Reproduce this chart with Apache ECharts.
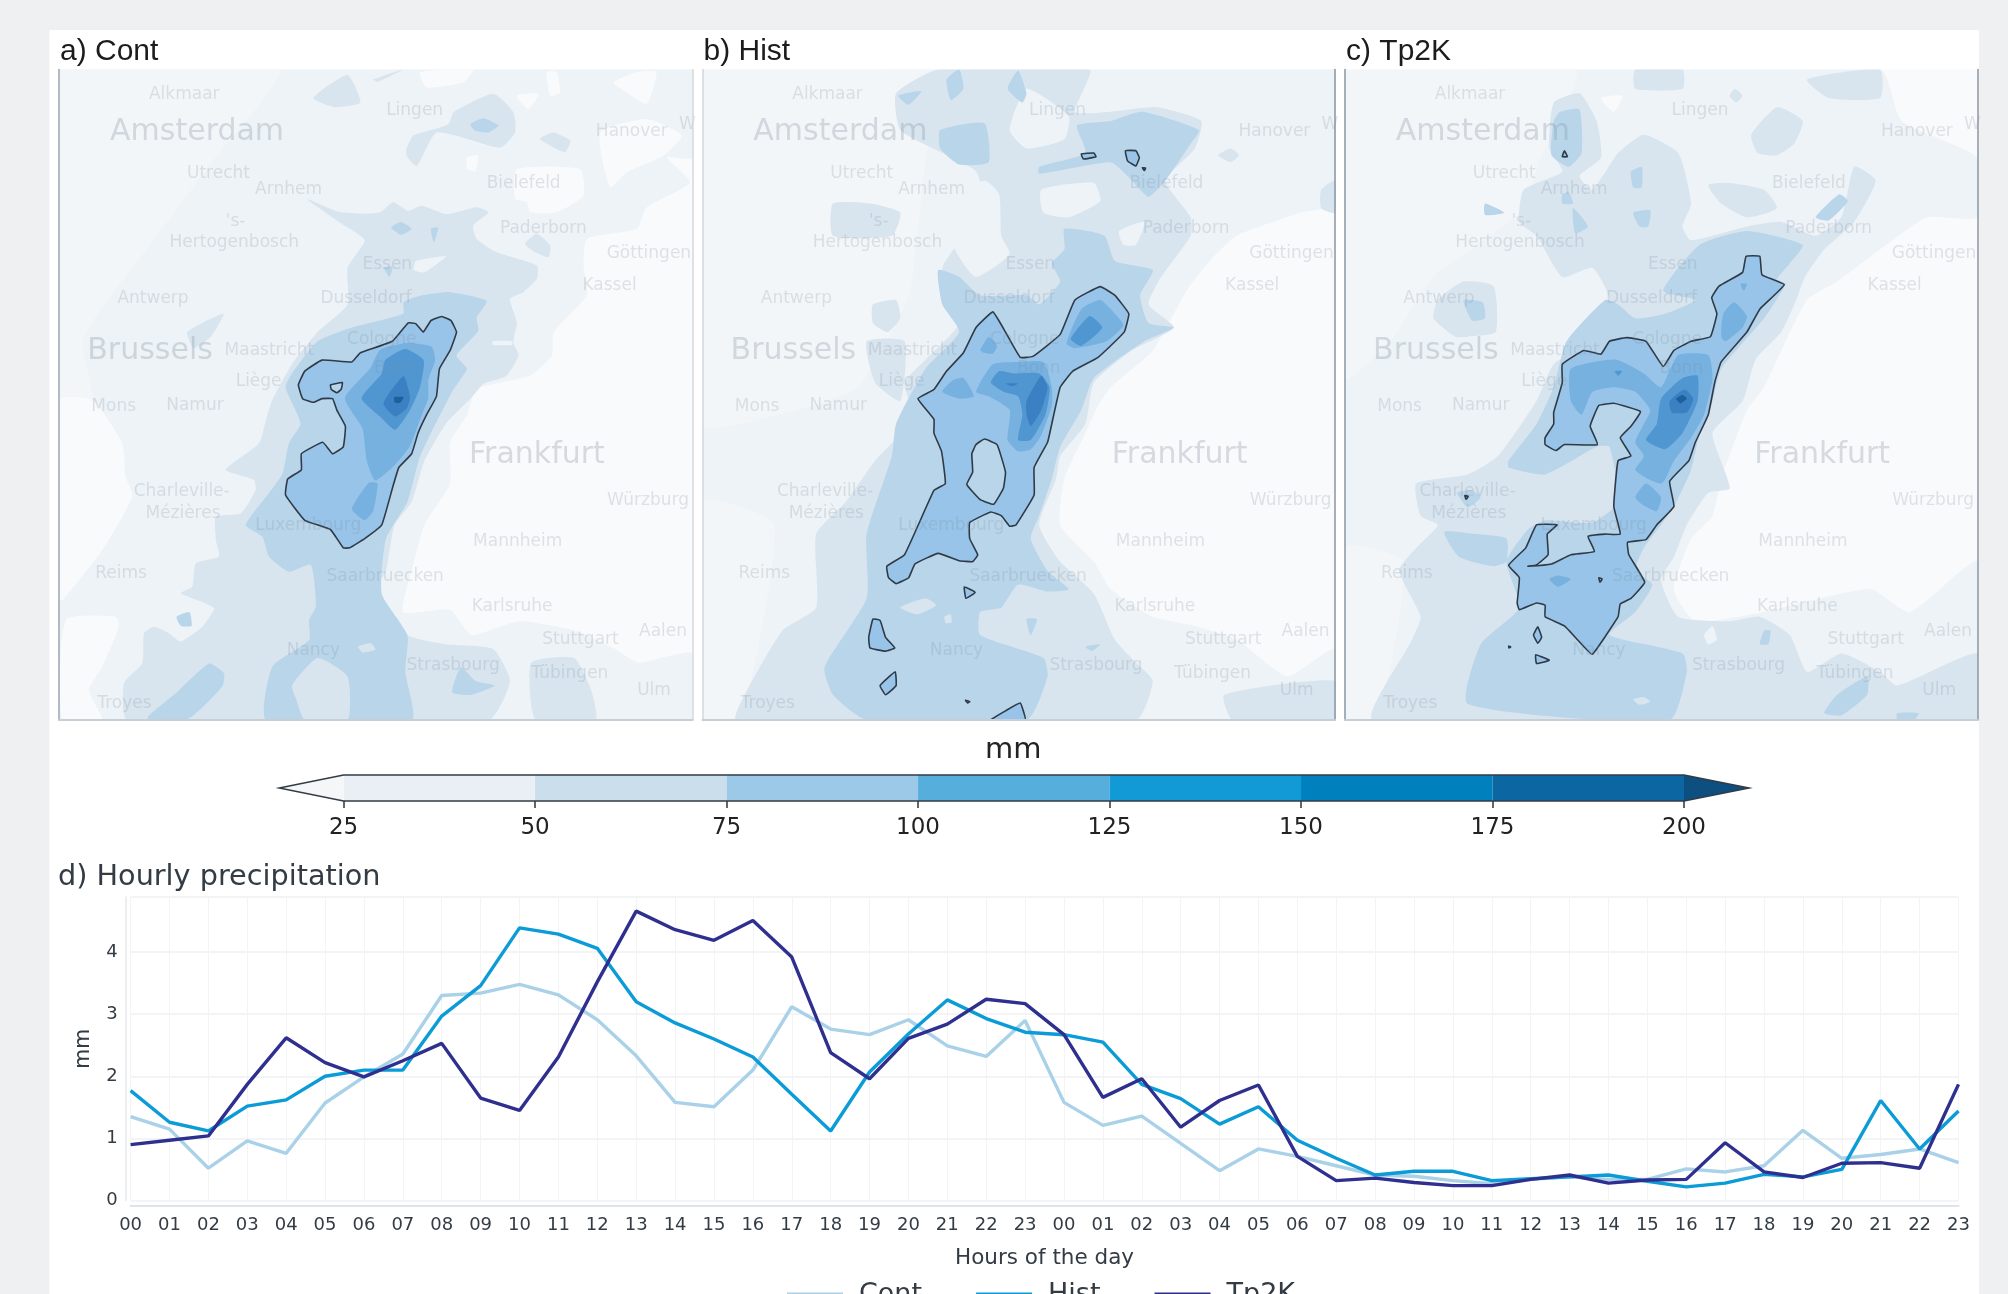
<!DOCTYPE html>
<html><head><meta charset="utf-8">
<style>html,body{margin:0;padding:0;background:#eef0f2}#c{width:2008px;height:1294px}</style>
<script src="https://cdn.jsdelivr.net/npm/echarts@6/dist/echarts.min.js"></script>
</head><body><div id="c"></div>
<script>
// ---------- line chart ----------
const hours = ['00','01','02','03','04','05','06','07','08','09','10','11','12','13','14','15','16','17','18','19','20','21','22','23','00','01','02','03','04','05','06','07','08','09','10','11','12','13','14','15','16','17','18','19','20','21','22','23'];
const contLine = [1.35,1.15,0.52,0.96,0.76,1.57,1.99,2.36,3.30,3.34,3.48,3.31,2.91,2.33,1.58,1.51,2.10,3.12,2.76,2.67,2.91,2.49,2.32,2.90,1.58,1.21,1.36,0.92,0.48,0.83,0.71,0.56,0.41,0.39,0.32,0.27,0.34,0.38,0.34,0.34,0.51,0.46,0.56,1.13,0.68,0.74,0.83,0.61];
const histLine = [1.77,1.26,1.12,1.52,1.62,2.00,2.10,2.10,2.97,3.46,4.39,4.29,4.06,3.20,2.86,2.60,2.31,1.71,1.12,2.07,2.68,3.23,2.93,2.71,2.67,2.55,1.87,1.64,1.23,1.51,0.97,0.68,0.41,0.47,0.47,0.32,0.35,0.38,0.41,0.31,0.22,0.28,0.42,0.38,0.50,1.61,0.83,1.44];
const tp2kLine = [0.90,0.97,1.04,1.87,2.62,2.22,1.99,2.25,2.53,1.65,1.45,2.31,3.52,4.66,4.36,4.19,4.51,3.92,2.38,1.96,2.61,2.84,3.24,3.17,2.67,1.66,1.96,1.18,1.61,1.86,0.71,0.32,0.36,0.29,0.24,0.24,0.34,0.41,0.28,0.33,0.34,0.93,0.46,0.37,0.60,0.61,0.52,1.87];

// ---------- colour bar ----------
const cbEdges = [25,50,75,100,125,150,175,200];
const cbColors = ['#e9eff4','#cadeec','#9cc9e7','#55aedb','#129ad6','#0080bd','#0c66a1'];
const cbLowTip = 16.6, cbHighTip = 208.5;

// ---------- map level colours ----------
const mapBase = '#f9fafb';
const lv0='#f3f6f9', lv25='#eef3f7', lv50='#d8e5ef', lv75='#b9d5ea', lv100='#97c4e8', lv125='#76b1e0', lv150='#5097d2', lv175='#3a80c2', lv200='#1f5f9c';

// ---------- cities (map units) ----------
const citiesSmall = [['Alkmaar',338,162],['Lingen',877,197],['Hanover',1385,244],['W',1515,229],['Utrecht',418,334],['Arnhem',582,369],['Bielefeld',1132,357],["'s-",458,439],['Hertogenbosch',455,486],['Paderborn',1178,454],['Göttingen',1425,510],['Essen',813,534],['Kassel',1333,579],['Antwerp',265,608],['Dusseldorf',763,606],['Cologne',800,696],['Maastricht',537,721],['Bonn',833,759],['Liège',512,787],['Mons',173,842],['Namur',363,841],['Charleville-',332,1028],['Mézières',335,1076],['Würzburg',1423,1046],['Luxembourg',628,1101],['Mannheim',1118,1137],['Reims',190,1206],['Saarbruecken',808,1212],['Karlsruhe',1105,1279],['Stuttgart',1265,1349],['Aalen',1458,1332],['Nancy',640,1374],['Strasbourg',967,1406],['Tübingen',1240,1424],['Ulm',1437,1461],['Troyes',198,1490]];
const citiesLarge = [['Amsterdam',368,244],['Brussels',258,722],['Frankfurt',1163,949]];

// ---------- panel a contours ----------
const a25 = [[[45,108],[1527,108],[1527,300],[1467,299],[1521,354],[1420,408],[1397,455],[1280,477],[1272,535],[1280,600],[1202,681],[1198,731],[1147,775],[1022,804],[1000,860],[960,920],[960,1010],[900,1100],[870,1200],[850,1290],[960,1285],[1010,1340],[1120,1310],[1250,1330],[1345,1370],[1400,1400],[1527,1380],[1527,1525],[45,1525]]];
const aPale = [[[45,108],[560,108],[500,200],[410,300],[330,400],[200,560],[150,620],[100,700],[123,828],[45,828]]];
const aGaps = [[[890,114],[1014,108],[991,136],[905,147]],[[1116,165],[1167,161],[1143,194]],[[1186,114],[1209,114],[1217,158],[1194,165]],[[1342,136],[1397,114],[1443,114],[1420,183],[1373,158]],[[1116,325],[1264,325],[1272,383],[1209,419],[1147,419],[1139,397],[1112,390]],[[1311,245],[1420,216],[1502,252],[1459,296],[1373,332],[1334,365]],[[61,1307],[178,1300],[185,1322],[146,1409],[115,1460],[146,1525],[53,1525]],[[45,828],[123,828],[193,922],[201,995],[217,1038],[146,1155],[53,1264],[45,1264]],[[1000,300],[1025,295],[1020,330],[1000,325]]];
const a50 = [[[796,419],[827,397],[862,416],[893,405],[952,423],[1022,408],[1050,419],[1014,448],[1022,477],[1069,506],[1163,535],[1163,564],[1131,593],[1100,608],[1116,659],[1108,702],[1120,731],[1092,775],[1038,793],[1007,826],[950,880],[900,960],[870,1050],[830,1100],[810,1200],[790,1240],[860,1340],[950,1360],[1060,1370],[1100,1440],[1050,1525],[205,1525],[197,1445],[240,1401],[244,1336],[267,1322],[302,1336],[330,1354],[380,1322],[408,1282],[388,1271],[330,1249],[357,1235],[365,1184],[419,1169],[412,1133],[412,1082],[470,1075],[505,1024],[501,1002],[435,980],[513,922],[529,872],[544,828],[590,750],[650,680],[720,620],[720,540],[760,480],[700,440],[625,390],[700,418],[760,422]],
[[640,170],[720,120],[750,180],[690,190]],[[858,296],[882,318],[929,245],[1077,278],[1112,245],[1108,201],[1061,161],[968,201],[956,227],[874,252],[858,281]],[[345,680],[430,640],[400,690],[360,715]],[[1135,488],[1163,466],[1194,492],[1190,517],[1159,506]],[[1150,1400],[1250,1390],[1290,1460],[1300,1525],[1160,1525]],[[780,130],[850,108],[790,135]],[[1170,259],[1202,245],[1241,263],[1229,288],[1202,278]]];
const a50Gaps = [[[880,525],[950,515],[900,550],[875,545]],[[1060,700],[1105,700],[1105,708],[1060,708]]];
const a75 = [[[851,615],[890,601],[960,593],[1046,612],[1022,648],[1026,677],[975,731],[999,760],[964,811],[890,950],[860,1050],[810,1130],[800,1250],[860,1340],[855,1420],[870,1525],[530,1525],[544,1409],[630,1351],[630,1307],[646,1278],[634,1187],[583,1202],[536,1169],[521,1126],[482,1100],[536,1031],[568,988],[583,922],[610,879],[575,800],[590,770],[650,700],[730,670],[850,640]],
[[252,1521],[318,1467],[396,1402],[431,1423],[427,1452],[349,1521]],[[965,1465],[985,1410],[1020,1440],[1065,1450],[1010,1470]],[[320,1300],[350,1290],[355,1320],[330,1320]],[[822,452],[845,440],[870,455],[845,468]],[[915,455],[932,452],[922,485]],[[805,540],[825,538],[818,560]],[[1007,227],[1038,214],[1073,230],[1050,245],[1018,241]]];
const a75Gaps = [[[590,1450],[650,1390],[720,1430],[720,1525],[620,1525],[600,1480]],[[745,1365],[775,1358],[785,1372],[755,1378]]];
const a100 = [[[862,660],[880,662],[897,680],[915,655],[940,646],[962,655],[975,680],[960,720],[935,760],[928,820],[905,860],[885,900],[870,945],[840,975],[825,1020],[800,1100],[760,1130],[725,1150],[710,1150],[680,1110],[620,1090],[575,1035],[580,1000],[612,980],[612,945],[662,920],[685,945],[710,930],[715,885],[695,850],[685,825],[660,825],[640,833],[615,825],[605,795],[620,765],[660,741],[730,745],[750,725],[825,700]]];
const a100Gaps = [[[680,795],[708,790],[705,805],[695,812],[682,805]]];
const a125 = [[[714,824],[773,759],[796,719],[859,704],[917,712],[925,741],[909,784],[909,824],[898,850],[886,879],[865,930],[830,970],[785,1003],[765,960],[755,890]],[[770,1008],[790,1010],[780,1070],[760,1090],[730,1065]]];
const a150 = [[[753,824],[800,770],[808,741],[855,717],[898,741],[890,799],[866,850],[831,893],[796,864]]];
const a175 = [[[804,835],[851,776],[866,821],[859,846],[831,864]]];
const a200 = [[[829,822],[851,822],[843,834],[831,834]]];

// ---------- panel b contours ----------
const bPale = [[[30,108],[600,108],[560,300],[520,600],[400,800],[250,850],[30,880]],[[30,1050],[200,1100],[120,1525],[30,1525]]];
const b25 = [[[450,108],[1533,108],[1533,400],[1450,420],[1300,470],[1240,520],[1180,590],[1100,720],[1000,800],[970,840],[940,900],[890,1000],[880,1100],[960,1180],[1000,1240],[1100,1300],[1200,1320],[1300,1350],[1420,1430],[1533,1370],[1533,1525],[30,1525],[30,800],[100,780],[250,800],[280,640],[340,380],[400,200]]];
const b50 = [[[590,108],[950,108],[915,200],[1000,200],[1110,190],[1215,220],[1200,280],[1130,350],[1190,430],[1190,470],[1120,560],[1090,620],[1150,670],[1050,720],[960,790],[940,880],[880,950],[870,1000],[830,1100],[880,1180],[960,1250],[1010,1350],[1060,1400],[1100,1440],[1060,1525],[110,1525],[130,1470],[220,1330],[300,1280],[300,1120],[370,1050],[440,960],[530,870],[510,790],[560,740],[640,660],[600,540],[700,410],[680,330],[600,290],[500,240],[490,160]],
[[435,620],[490,610],[500,650],[470,680],[435,660]],[[340,400],[430,400],[500,420],[480,470],[340,470]],[[420,700],[510,700],[500,830],[440,790]],[[1270,1470],[1533,1440],[1533,1525],[1290,1525]],[[1255,295],[1285,280],[1305,295],[1285,310]],[[1500,370],[1533,350],[1533,420],[1500,410]]];
const b50Gaps = [[[835,370],[960,355],[975,395],[900,430],[840,420]],[[1020,460],[1080,440],[1060,490],[1030,490]],[[760,240],[800,150],[900,210],[890,260],[800,280]],[[615,400],[700,350],[735,380],[740,470],[760,510],[680,560],[630,500]]];
const b75 = [[[890,455],[985,470],[1010,525],[1100,545],[1070,600],[1090,660],[1150,670],[1080,700],[960,780],[930,850],[880,930],[860,1000],[830,1080],[810,1130],[850,1200],[900,1240],[850,1245],[780,1230],[740,1280],[690,1290],[690,1340],[840,1390],[850,1430],[800,1525],[420,1525],[340,1470],[320,1410],[420,1260],[420,1120],[480,950],[490,880],[560,760],[640,680],[600,620],[590,545],[640,560],[690,600],[800,600],[830,620],[880,570],[860,530],[890,500]],
[[830,320],[940,290],[920,230],[1000,220],[1075,200],[1210,240],[1190,270],[1130,350],[1090,385],[1040,340],[1000,310],[830,335]],[[595,240],[700,225],[710,310],[640,315],[595,280]],[[610,130],[640,108],[650,150],[620,175]],[[495,165],[550,155],[520,185]],[[780,110],[800,160],[790,180],[755,150]],[[1115,250],[1135,258],[1122,270]],[[800,1305],[825,1305],[810,1340]],[[940,1365],[975,1360],[955,1375]]];
const b75Gaps = [[[500,1280],[560,1260],[585,1275],[540,1295]],[[605,1300],[620,1295],[622,1312],[608,1314]]];
const b100 = [[[720,636],[750,680],[785,735],[815,733],[880,685],[915,610],[975,581],[1010,600],[1043,640],[1032,680],[970,735],[910,765],[880,800],[860,880],[850,920],[818,975],[818,1035],[775,1100],[760,1103],[740,1080],[715,1072],[665,1095],[665,1130],[684,1165],[672,1180],[640,1178],[590,1162],[535,1185],[520,1215],[490,1228],[472,1215],[468,1190],[510,1165],[580,1025],[607,1010],[598,940],[580,900],[580,870],[542,825],[580,805],[610,765],[650,725],[680,670]],
[[930,292],[960,290],[965,298],[935,303]],[[1035,285],[1060,285],[1068,300],[1060,318],[1040,307]],[[1075,322],[1083,323],[1080,328]],[[652,1235],[678,1247],[656,1260]],[[435,1305],[452,1308],[465,1345],[487,1368],[465,1375],[428,1368],[425,1345]],[[452,1450],[488,1420],[490,1450],[465,1470]],[[655,1482],[665,1485],[660,1488]],[[715,1525],[750,1505],[785,1488],[797,1525]]];
const b100Gaps = [[[700,913],[730,925],[750,985],[745,1020],[722,1055],[690,1045],[658,1012],[672,985],[670,945],[680,925]]];
const b125 = [[[600,810],[625,785],[650,780],[675,820],[640,825]],[[690,720],[710,690],[730,710],[720,727],[700,725]],[[680,810],[720,750],[780,745],[840,745],[860,800],[860,840],[835,905],[810,935],[780,940],[755,915],[760,850],[710,820]],[[895,705],[930,630],[975,610],[1010,640],[1030,665],[990,700],[915,715]]];
const b150 = [[[715,790],[735,765],[770,770],[830,770],[855,800],[845,860],[810,915],[780,915],[790,860],[780,820],[745,810]],[[905,695],[950,645],[980,670],[930,710]]];
const b175 = [[[800,830],[835,775],[850,800],[835,850],[810,885],[800,860]],[[750,792],[780,792],[765,798]]];

// ---------- panel c contours ----------
const cPale = [[[24,108],[560,108],[480,300],[430,420],[230,560],[130,700],[24,780]],[[24,1150],[160,1180],[100,1525],[24,1525]]];
const c25 = [[[330,108],[1270,108],[1320,220],[1497,300],[1497,430],[1380,430],[1270,500],[1170,570],[1100,610],[1040,720],[1000,800],[960,850],[900,1000],[880,1080],[830,1130],[790,1240],[840,1310],[1000,1290],[1130,1260],[1250,1240],[1340,1290],[1497,1180],[1497,1525],[60,1525],[24,1400],[24,700],[100,690],[150,600],[50,560],[24,500],[24,300],[150,300],[200,240],[280,170]]];
const cGaps = [[[620,170],[670,165],[650,200]],[[630,1000],[640,960],[625,945]]];
const c50 = [[[510,180],[570,160],[610,220],[620,300],[570,340],[600,370],[660,290],[720,250],[800,290],[830,400],[810,450],[830,480],[960,450],[1040,440],[1120,470],[1180,430],[1210,320],[1260,350],[1210,440],[1140,500],[1095,560],[1075,610],[1040,680],[980,740],[950,830],[880,900],[920,1020],[870,1030],[820,1100],[790,1170],[760,1220],[800,1300],[920,1310],[990,1300],[1060,1340],[1100,1420],[1180,1380],[1270,1420],[1310,1450],[1497,1380],[1497,1525],[90,1525],[180,1350],[200,1300],[150,1200],[190,1150],[240,1100],[200,1080],[190,1010],[310,990],[380,950],[470,830],[510,750],[590,700],[640,610],[600,540],[530,560],[470,470],[430,440],[440,370],[530,330],[500,280]],
[[240,610],[300,570],[370,580],[375,680],[310,690],[280,690],[230,650]],[[970,250],[1030,190],[1090,220],[1070,270],[1030,295],[985,290]],[[1100,130],[1270,108],[1270,170],[1150,170]],[[700,108],[810,108],[810,150],[700,150]],[[920,165],[932,150],[950,165],[935,180]],[[870,360],[920,355],[1000,370],[1030,410],[960,430],[900,400]]];
const c50Gaps = [[[450,730],[480,720],[485,790],[440,790]],[[1040,290],[1075,290],[1060,315]],[[860,1340],[880,1320],[890,1350],[870,1360]]];
const c75 = [[[850,490],[960,460],[1090,490],[1060,530],[1030,565],[1050,575],[1000,650],[900,760],[880,830],[850,900],[830,980],[790,1060],[760,1100],[720,1150],[700,1200],[740,1230],[700,1290],[640,1340],[810,1380],[820,1420],[780,1525],[310,1490],[340,1360],[430,1280],[400,1180],[450,1110],[490,1090],[600,1095],[660,1050],[640,930],[610,930],[490,990],[405,975],[405,960],[470,880],[510,800],[540,700],[630,610],[660,620],[700,650],[770,640],[840,610],[765,590]],
[[525,200],[570,195],[575,290],[545,320],[505,295],[510,220]],[[690,330],[715,320],[715,365],[695,365]],[[530,380],[545,375],[555,400],[530,400]],[[555,410],[590,450],[560,465]],[[695,420],[735,415],[730,450],[710,450]],[[350,400],[395,420],[350,425]],[[1120,430],[1175,380],[1195,395],[1150,437]],[[300,610],[345,615],[350,650],[320,655]],[[285,1030],[320,1025],[340,1040],[310,1062]],[[255,1115],[330,1120],[400,1130],[400,1180],[370,1190],[290,1170]],[[1000,1330],[1015,1330],[1010,1360],[990,1360]],[[1140,1510],[1170,1470],[1240,1430],[1240,1470],[1180,1515]],[[1310,1510],[1360,1510],[1350,1525],[1310,1525]]];
const c75Gaps = [[[695,1480],[720,1475],[735,1485],[710,1492]]];
const c100 = [[[958,515],[990,515],[995,555],[1047,577],[990,630],[960,680],[900,745],[885,790],[870,860],[840,920],[825,960],[780,1005],[790,1060],[750,1100],[725,1132],[682,1138],[685,1165],[722,1225],[690,1260],[665,1272],[660,1300],[600,1382],[575,1360],[535,1320],[490,1300],[490,1275],[470,1270],[430,1285],[425,1270],[430,1215],[405,1188],[445,1150],[470,1100],[518,1100],[495,1120],[497,1165],[470,1187],[450,1190],[505,1185],[550,1165],[605,1158],[590,1125],[630,1120],[665,1120],[650,1060],[660,960],[690,950],[665,910],[690,885],[712,853],[650,835],[615,840],[595,885],[612,925],[535,925],[515,938],[490,925],[490,910],[510,880],[510,855],[530,790],[530,750],[580,720],[620,728],[640,700],[680,692],[725,700],[765,755],[790,720],[830,700],[875,690],[890,640],[878,605],[895,580],[950,550]],
[[535,285],[542,298],[530,298]],[[303,1036],[311,1038],[306,1044]],[[615,1215],[623,1218],[618,1225]],[[473,1322],[482,1345],[473,1358],[463,1340]],[[468,1383],[500,1395],[470,1402]],[[405,1364],[410,1366],[406,1368]]];
const c125 = [[[550,760],[655,740],[720,770],[760,800],[800,730],[870,730],[880,780],[860,860],[830,910],[790,960],[770,1000],[760,1010],[730,1000],[700,980],[720,950],[700,920],[720,880],[735,850],[700,810],[650,800],[600,810],[575,860],[550,830]],[[900,690],[905,640],[930,615],[960,645],[950,670],[910,700]],[[700,1040],[725,1010],[760,1040],[750,1070],[715,1055]],[[500,1218],[520,1210],[550,1218],[520,1235]],[[945,575],[960,575],[953,590]]];
const c150 = [[[760,825],[810,780],[845,775],[845,830],[810,900],[770,935],[725,915],[750,880]],[[652,765],[670,765],[660,775]]];
const c175 = [[[780,830],[815,805],[835,825],[820,855],[785,855]]];
const c200 = [[[795,825],[810,817],[820,825],[805,835]]];

// ---------- layout constants ----------
const panels = [
 {title:'a) Cont', left:59, right:692.5, xr:[45,1527], layers:[[a25,lv25],[aPale,lv0],[aGaps,mapBase],[a50,lv50],[a50Gaps,lv25],[a75,lv75],[a75Gaps,lv50],[a100,lv100,1],[a100Gaps,lv75,1],[a125,lv125],[a150,lv150],[a175,lv175],[a200,lv200]], lc:'#9aa6b2', rc:'#d3d9df'},
 {title:'b) Hist', left:702.5, right:1335, xr:[30,1533], layers:[[b25,lv25],[bPale,lv0],[b50,lv50],[b50Gaps,lv25],[b75,lv75],[b75Gaps,lv50],[b100,lv100,1],[b100Gaps,lv75,1],[b125,lv125],[b150,lv150],[b175,lv175]], lc:'#d3d9df', rc:'#8a96a2'},
 {title:'c) Tp2K', left:1345, right:1977.5, xr:[24,1497], layers:[[c25,lv25],[cPale,lv0],[cGaps,mapBase],[c50,lv50],[c50Gaps,lv25],[c75,lv75],[c75Gaps,lv50],[c100,lv100,1],[c125,lv125],[c150,lv150],[c175,lv175],[c200,lv200]], lc:'#8a96a2', rc:'#8a96a2'}
];
const mapTop=69.5, mapBottom=720, H=1294, W=2008;
const grids=[], xAxes=[], yAxes=[], series=[], titles=[];
const hiddenAxis = {show:true, z:10, axisLabel:{show:false}, axisTick:{show:false}, splitLine:{show:false}};

panels.forEach((p,i)=>{
  grids.push({left:p.left, top:mapTop, width:p.right-p.left, height:mapBottom-mapTop, show:true, backgroundColor:mapBase, borderWidth:0});
  titles.push({text:p.title, left:p.left-4, top:32, textStyle:{fontFamily:'Liberation Sans', fontWeight:'normal', fontSize:30, color:'#1c1c1c'}});
});
panels.forEach((p,i)=>{ xAxes.push({...hiddenAxis, type:'value', gridIndex:i, min:p.xr[0], max:p.xr[1], position:'bottom', axisLine:{show:true, onZero:false, lineStyle:{color:'#c6ced6', width:2}}});
  yAxes.push({...hiddenAxis, type:'value', gridIndex:i, min:108, max:1525, inverse:true, position:'left', axisLine:{show:true, onZero:false, lineStyle:{color:p.lc, width:1.5}}}); });
panels.forEach((p,i)=>{ xAxes.push({...hiddenAxis, show:false, type:'value', gridIndex:i, min:45, max:1527});
  yAxes.push({...hiddenAxis, type:'value', gridIndex:i, min:108, max:1525, inverse:true, position:'right', axisLine:{show:true, onZero:false, lineStyle:{color:p.rc, width:1.5}}}); });

function contourSeries(rings, color, outlined, i){
  return {type:'custom', coordinateSystem:'cartesian2d', xAxisIndex:i, yAxisIndex:i, clip:true, silent:true, z:2,
    data:rings.map((r,k)=>[r[0][0],r[0][1],k]), encode:{x:0,y:1},
    renderItem:(prm,api)=>({type:'polygon', shape:{points:rings[api.value(2)].map(q=>api.coord(q)), smooth:outlined?0.1:0.18},
      style:{fill:color, stroke:outlined?'#2f3a46':null, lineWidth:outlined?1.6:0}})};
}
panels.forEach((p,i)=>{
  p.layers.forEach(l=>series.push(contourSeries(l[0],l[1],l[2],i)));
  const cityData = citiesSmall.map(c=>({name:c[0],value:[c[1],c[2]],label:{fontSize:17}}))
      .concat(citiesLarge.map(c=>({name:c[0],value:[c[1],c[2]],label:{fontSize:30,color:'rgba(125,140,155,0.36)'}})));
  series.push({type:'scatter', xAxisIndex:3+i, yAxisIndex:i, symbolSize:0, silent:true, z:6, data:cityData,
    label:{show:true, position:'inside', formatter:'{b}', fontFamily:'DejaVu Sans', color:'rgba(125,140,155,0.28)'}});
});

// colour bar
const CB=3;
grids.push({left:343.6, top:775, width:1340.4, height:26});
xAxes.push({type:'value', gridIndex:CB, min:25, max:200, interval:25, position:'bottom', splitLine:{show:false},
  axisLine:{show:false}, axisTick:{show:true, length:7, lineStyle:{color:'#333', width:1.5}},
  axisLabel:{margin:16, fontFamily:'DejaVu Sans', fontSize:23, color:'#222'}});
yAxes.push({type:'value', gridIndex:CB, min:0, max:1, show:false});
titles.push({text:'mm', left:980, top:731, textStyle:{fontFamily:'DejaVu Sans', fontWeight:'normal', fontSize:29, color:'#222'}});
series.push({type:'custom', coordinateSystem:'cartesian2d', xAxisIndex:6, yAxisIndex:6, silent:true, z:3,
  data:cbColors.map((c,k)=>[cbEdges[k],cbEdges[k+1],k]), encode:{x:[0,1]},
  renderItem:(prm,api)=>{const a=api.coord([api.value(0),1]), b=api.coord([api.value(1),0]);
    return {type:'rect', shape:{x:a[0],y:a[1],width:b[0]-a[0],height:b[1]-a[1]}, style:{fill:cbColors[api.value(2)]}};}});
const cbTips=[[cbLowTip,cbEdges[0],'#f4f6f8'],[cbHighTip,cbEdges[7],'#0c4f80']];
series.push({type:'custom', coordinateSystem:'cartesian2d', xAxisIndex:6, yAxisIndex:6, silent:true, z:3,
  data:cbTips.map((t,k)=>[t[0],t[1],k]), encode:{x:[0,1]},
  renderItem:(prm,api)=>{const tip=api.coord([api.value(0),0.5]), u=api.coord([api.value(1),1]), d=api.coord([api.value(1),0]);
    return {type:'polygon', shape:{points:[tip,u,d]}, style:{fill:cbTips[api.value(2)][2]}};}});
const cbOutline=[[cbLowTip,0.5],[cbEdges[0],1],[cbEdges[7],1],[cbHighTip,0.5],[cbEdges[7],0],[cbEdges[0],0]];
series.push({type:'custom', coordinateSystem:'cartesian2d', xAxisIndex:6, yAxisIndex:6, silent:true, z:4,
  data:[[cbLowTip,cbHighTip]], encode:{x:[0,1]},
  renderItem:(prm,api)=>({type:'polygon', shape:{points:cbOutline.map(q=>api.coord(q))}, style:{fill:'none', stroke:'#333b44', lineWidth:1.5}})});

// line chart
const LN=4;
grids.push({left:130.6, top:897, width:1827.9, height:303.5});
xAxes.push({type:'category', gridIndex:LN, data:hours, boundaryGap:false, position:'bottom', offset:5,
  axisLine:{onZero:false, lineStyle:{color:'#dfe3ee', width:2}}, axisTick:{show:false},
  axisLabel:{interval:0, margin:11, fontFamily:'DejaVu Sans', fontSize:18, color:'#333c44'},
  splitLine:{show:true, interval:0, lineStyle:{color:'#f3f4f6', width:1}},
  name:'Hours of the day', nameLocation:'middle', nameGap:42, nameTextStyle:{fontFamily:'DejaVu Sans', fontSize:21.5, color:'#333c44'}});
yAxes.push({type:'value', gridIndex:LN, min:0, max:4.887, interval:1, position:'left', offset:5,
  axisLine:{show:true, onZero:false, lineStyle:{color:'#e6e8ee', width:1.5}}, axisTick:{show:false},
  axisLabel:{margin:8, fontFamily:'DejaVu Sans', fontSize:18, color:'#333c44', showMaxLabel:false, formatter:v=>Number.isInteger(v)?v:''},
  splitLine:{show:true, lineStyle:{color:'#f3f4f6', width:2}},
  name:'mm', nameLocation:'middle', nameGap:31, nameRotate:90, nameTextStyle:{fontFamily:'DejaVu Sans', fontSize:20.5, color:'#333c44'}});
titles.push({text:'d) Hourly precipitation', left:53, top:858, textStyle:{fontFamily:'DejaVu Sans', fontWeight:'normal', fontSize:28.7, color:'#333c44'}});
[['Cont',contLine,'#a9d1e8'],['Hist',histLine,'#0b9bd7'],['Tp2K',tp2kLine,'#2e2f8e']].forEach(s=>{
  series.push({type:'line', name:s[0], data:s[1], xAxisIndex:7, yAxisIndex:7, showSymbol:false, symbol:'none', z:5, clip:false,
    lineStyle:{color:s[2], width:3.4}, itemStyle:{color:s[2]}});
});

const chart = echarts.init(document.getElementById('c'), null, {renderer:'canvas', width:W, height:H});
chart.setOption({
  animation:false, backgroundColor:'#eef0f2',
  graphic:[{type:'rect', z:-100, silent:true, shape:{x:49.5,y:30,width:1929.5,height:1264}, style:{fill:'#ffffff'}}],
  title:titles, grid:grids, xAxis:xAxes, yAxis:yAxes, series:series,
  legend:{show:true, data:['Cont','Hist','Tp2K'], left:782, top:1276, icon:'rect', itemWidth:56, itemHeight:4, itemGap:54,
    textStyle:{fontFamily:'DejaVu Sans', fontSize:27, color:'#333c44', padding:[0,0,0,11]}}
});
</script></body></html>
